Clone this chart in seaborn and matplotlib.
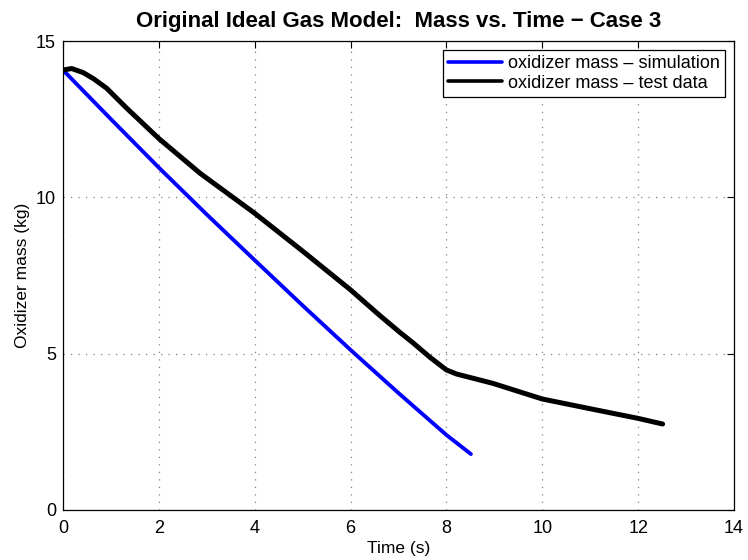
import numpy as np
import pandas as pd
import matplotlib
matplotlib.use("Agg")
import matplotlib.pyplot as plt
from matplotlib.lines import Line2D
import seaborn as sns

# Simulated oxidizer mass (kg) vs. time (s)
sim_time = [0.0, 1.0, 2.0, 3.0, 4.0, 5.0, 6.0, 7.0, 8.0, 8.51]
sim_mass = [14.07, 12.5, 10.95, 9.45, 7.99, 6.54, 5.12, 3.74, 2.40, 1.79]

# Measured oxidizer mass (kg) vs. time (s)
test_time = [0.0, 0.18, 0.42, 0.63, 0.91, 1.33, 2.0, 2.86, 4.0, 5.0, 6.0,
             6.61, 7.03, 7.3, 7.66, 8.0, 8.21, 8.97, 10.0, 11.06, 12.0, 12.51]
test_mass = [14.07, 14.12, 13.99, 13.8, 13.49, 12.85, 11.88, 10.77, 9.49, 8.28, 7.04,
             6.22, 5.68, 5.35, 4.88, 4.48, 4.35, 4.05, 3.55, 3.22, 2.93, 2.75]

series_names = ["oxidizer mass \u2013 simulation", "oxidizer mass \u2013 test data"]
x_ticks = [0, 2, 4, 6, 8, 10, 12, 14]
y_ticks = [0, 5, 10, 15]

df = pd.concat([
    pd.DataFrame({"Time": sim_time, "Mass": sim_mass, "Series": series_names[0]}),
    pd.DataFrame({"Time": test_time, "Mass": test_mass, "Series": series_names[1]}),
], ignore_index=True)

sns.set_style("white")
plt.rcParams["font.family"] = ["Liberation Sans", "DejaVu Sans"]
plt.rcParams["text.color"] = "black"
plt.rcParams["axes.labelcolor"] = "black"

fig = plt.figure(figsize=(7.48, 5.6), dpi=100)
ax = fig.add_axes([63 / 748, 1 - 510 / 560, 671 / 748, 469 / 560])

palette = {series_names[0]: "#0000ff", series_names[1]: "#000000"}
sns.lineplot(data=df, x="Time", y="Mass", hue="Series", palette=palette,
             sort=False, estimator=None, ax=ax, legend=False)
ax.lines[0].set_linewidth(2.8)
ax.lines[1].set_linewidth(3.6)

ax.set_xlim(0, 14)
ax.set_ylim(0, 15)
ax.set_xticks(x_ticks)
ax.set_yticks(y_ticks)
ax.tick_params(direction="in", length=5, width=0.8, top=True, right=True,
               labelsize=13, colors="black")
ax.tick_params(axis="x", pad=7)
ax.tick_params(axis="y", pad=5)
ax.grid(True, linestyle=(0, (1, 5)), color="#808080", linewidth=0.9)
for s in ax.spines.values():
    s.set_color("black")
    s.set_linewidth(0.9)

ax.set_xlabel("Time (s)", fontsize=12.5, labelpad=3)
ax.set_ylabel("Oxidizer mass (kg)", fontsize=12.5, labelpad=4)
ax.set_title("Original Ideal Gas Model:  Mass vs. Time \u2212 Case 3",
             fontsize=16, fontweight="bold", color="black", pad=10)

handles = [Line2D([], [], color="#0000ff", lw=2.6),
           Line2D([], [], color="#000000", lw=2.6)]
leg = ax.legend(handles, series_names, loc="upper right", fontsize=13,
                frameon=True, fancybox=False, framealpha=1, edgecolor="black",
                borderaxespad=0.5, handlelength=3.0, handletextpad=0.3,
                labelspacing=0.12, borderpad=0.3)
leg.get_frame().set_linewidth(0.9)
for t in leg.get_texts():
    t.set_color("black")

fig.savefig("out.png", dpi=100, facecolor="white")
